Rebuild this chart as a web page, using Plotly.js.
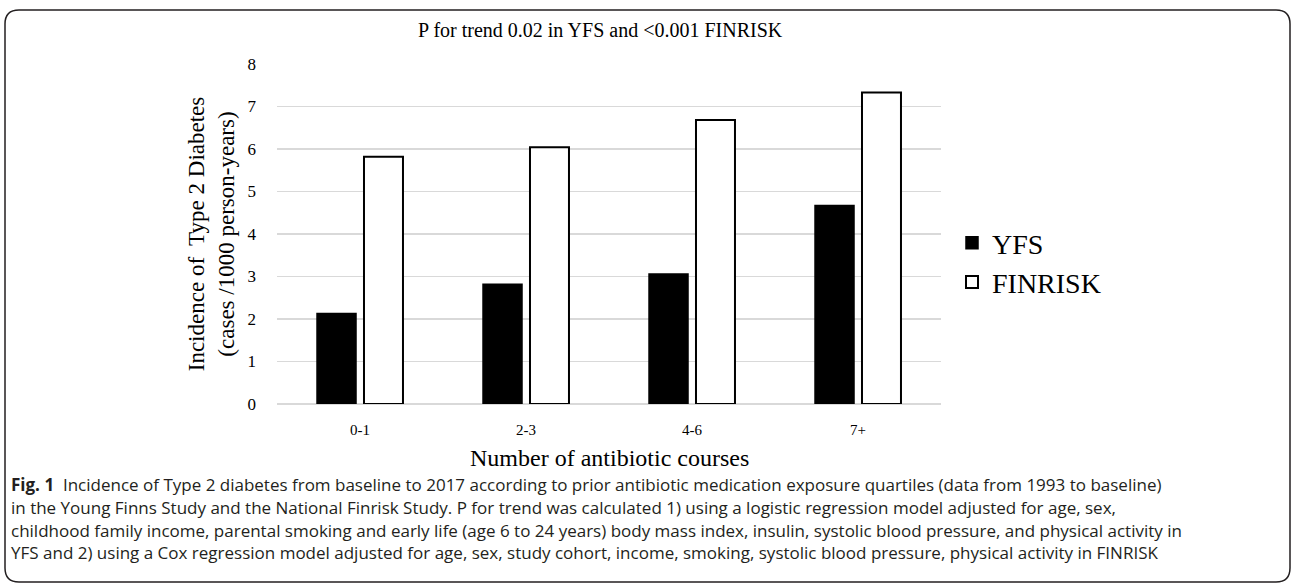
<!DOCTYPE html>
<html>
<head>
<meta charset="utf-8">
<script src="https://cdn.plot.ly/plotly-3.0.1.min.js"></script>
<style>
  html, body { margin: 0; padding: 0; background: #ffffff; }
  #chart { width: 1296px; height: 586px; }
</style>
</head>
<body>
<div id="chart"></div>
<script>
// ---- data ----
const categories = ["0-1", "2-3", "4-6", "7+"];
const yfsValues = [2.13, 2.82, 3.06, 4.67];
const finriskValues = [5.82, 6.04, 6.68, 7.33];
const seriesNames = ["YFS", "FINRISK"];
const yTickValues = [0, 1, 2, 3, 4, 5, 6, 7, 8];

const chartTitle = "P for trend 0.02 in YFS and <0.001 FINRISK";
const xTitle = "Number of antibiotic courses";
const yTitle = "Incidence of  Type 2 Diabetes<br>(cases /1000 person-years)";
const captionLines = [
  "<b>Fig. 1</b>  Incidence of Type 2 diabetes from baseline to 2017 according to prior antibiotic medication exposure quartiles (data from 1993 to baseline)",
  "in the Young Finns Study and the National Finrisk Study. P for trend was calculated 1) using a logistic regression model adjusted for age, sex,",
  "childhood family income, parental smoking and early life (age 6 to 24 years) body mass index, insulin, systolic blood pressure, and physical activity in",
  "YFS and 2) using a Cox regression model adjusted for age, sex, study cohort, income, smoking, systolic blood pressure, physical activity in FINRISK"
];

// ---- layout geometry (pixels) ----
const W = 1296, H = 586;
const L = 277, R = 941, T = 64, B = 404;
const pw = R - L, ph = B - T;
const px = x => (x - L) / pw;          // pixel -> paper x
const py = y => (B - y) / ph;          // pixel -> paper y

const serif = "Liberation Serif, Times New Roman, serif";
const sans = "Open Sans, Noto Sans, sans-serif";

const traces = [
  {
    type: "bar", name: seriesNames[0], x: categories, y: yfsValues,
    marker: { color: "#000000", line: { color: "#000000", width: 1.5 } },
    hoverinfo: "x+y+name"
  },
  {
    type: "bar", name: seriesNames[1], x: categories, y: finriskValues,
    marker: { color: "#ffffff", line: { color: "#000000", width: 2 } },
    hoverinfo: "x+y+name"
  }
];

// rounded border in paper coords
const bx0 = 5, bx1 = 1290, by0 = 10, by1 = 582, rr = 14;
const borderPath =
  `M ${px(bx0 + rr)} ${py(by0)} L ${px(bx1 - rr)} ${py(by0)} ` +
  `Q ${px(bx1)} ${py(by0)} ${px(bx1)} ${py(by0 + rr)} ` +
  `L ${px(bx1)} ${py(by1 - rr)} Q ${px(bx1)} ${py(by1)} ${px(bx1 - rr)} ${py(by1)} ` +
  `L ${px(bx0 + rr)} ${py(by1)} Q ${px(bx0)} ${py(by1)} ${px(bx0)} ${py(by1 - rr)} ` +
  `L ${px(bx0)} ${py(by0 + rr)} Q ${px(bx0)} ${py(by0)} ${px(bx0 + rr)} ${py(by0)} Z`;

const captionY = [484, 507, 530, 552];
const annotations = captionLines.map((t, i) => ({
  text: t, xref: "paper", yref: "paper",
  x: px(9), y: py(captionY[i]), xanchor: "left", yanchor: "middle",
  showarrow: false, align: "left",
  font: { family: sans, size: 17, color: "#231f20" }
}));
annotations.push({
  text: chartTitle, xref: "paper", yref: "paper",
  x: px(600), y: py(30), xanchor: "center", yanchor: "middle",
  showarrow: false, font: { family: serif, size: 20, color: "#000000" }
});
annotations.push({
  text: xTitle, xref: "paper", yref: "paper",
  x: 0.5, y: py(458), xanchor: "center", yanchor: "middle",
  showarrow: false, font: { family: serif, size: 24, color: "#000000" }
});

const layout = {
  width: W, height: H,
  margin: { l: L, r: W - R, t: T, b: H - B, pad: 0 },
  paper_bgcolor: "#ffffff", plot_bgcolor: "#ffffff",
  barmode: "group", bargap: 0.434, bargroupgap: 0.17,
  showlegend: true,
  legend: {
    x: px(952), y: py(218), xanchor: "left", yanchor: "top",
    font: { family: serif, size: 28, color: "#000000" },
    bgcolor: "rgba(0,0,0,0)", itemwidth: 30, tracegroupgap: 0
  },
  xaxis: {
    type: "category", showgrid: false, zeroline: false, showline: false,
    ticks: "", tickfont: { family: serif, size: 15, color: "#000000" },
    ticklabelstandoff: 15
  },
  yaxis: {
    range: [0, 8], tickvals: yTickValues, ticktext: yTickValues.map(String),
    showgrid: true, gridcolor: "#d9d9d9", gridwidth: 1.2,
    zeroline: true, zerolinecolor: "#d9d9d9", zerolinewidth: 1.2,
    showline: false, ticks: "",
    tickfont: { family: serif, size: 17, color: "#000000" },
    ticklabelstandoff: 20,
    title: { text: yTitle, font: { family: serif, size: 23, color: "#000000" }, standoff: 6 }
  },
  shapes: [{
    type: "path", xref: "paper", yref: "paper", path: borderPath,
    line: { color: "#231f20", width: 1.5 }, fillcolor: "rgba(0,0,0,0)", layer: "above"
  }],
  annotations: annotations
};

Plotly.newPlot("chart", traces, layout, { displayModeBar: false, staticPlot: true });
</script>
</body>
</html>
